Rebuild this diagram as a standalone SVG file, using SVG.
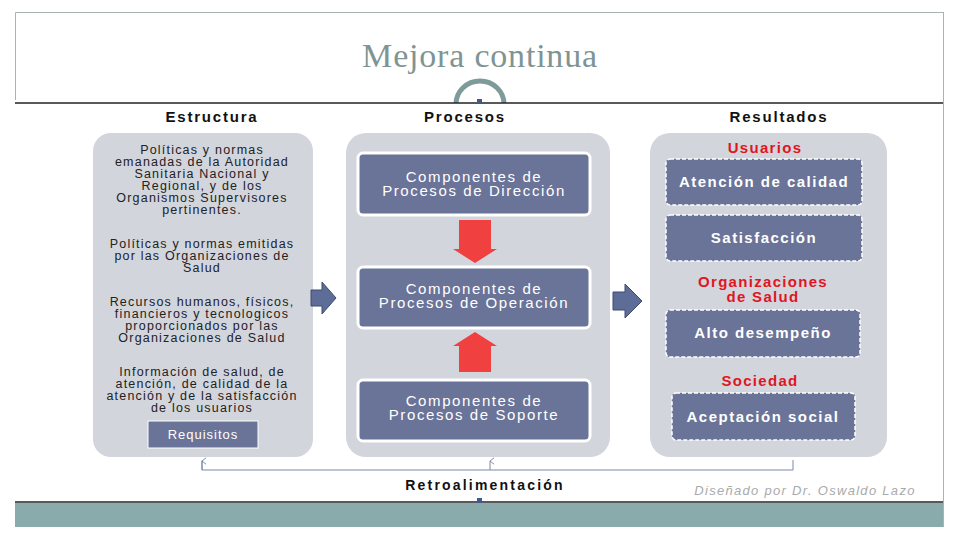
<svg xmlns="http://www.w3.org/2000/svg" width="960" height="540" viewBox="0 0 960 540">
<defs>
<style>
.hdr{font-family:"Liberation Sans",Arial,sans-serif;font-weight:bold;font-size:15px;fill:#111;text-anchor:middle;letter-spacing:1.8px}
.lt{font-family:"Liberation Sans",Arial,sans-serif;font-size:12.5px;fill:#222;text-anchor:middle;letter-spacing:1.2px}
.bt{font-family:"Liberation Sans",Arial,sans-serif;font-size:15px;fill:#fff;text-anchor:middle;letter-spacing:1.6px}
.rbt{font-family:"Liberation Sans",Arial,sans-serif;font-weight:bold;font-size:15px;fill:#fff;text-anchor:middle;letter-spacing:1.5px}
.red{font-family:"Liberation Sans",Arial,sans-serif;font-weight:bold;font-size:15px;fill:#e0161e;text-anchor:middle;letter-spacing:1.3px}
.panel{fill:#d3d5dd}
.pbox{fill:#6a7398;stroke:#fff;stroke-width:3}
.rbox{fill:#6a7398;stroke:#fff;stroke-width:1.5;stroke-dasharray:4 2}
.fb{fill:none;stroke:#7a88aa;stroke-width:1}
</style>
<marker id="up" viewBox="0 0 10 10" refX="5" refY="1" markerWidth="8" markerHeight="8" orient="auto-start-reverse" markerUnits="userSpaceOnUse">
<path d="M1,6 L5,1 L9,6" fill="none" stroke="#7a88aa" stroke-width="1.2"/>
</marker>
</defs>
<rect x="0" y="0" width="960" height="540" fill="#fff"/>
<path d="M15.5,100 V12.5 H943.5 V527" fill="none" stroke="#a8b4b4" stroke-width="1"/>
<text x="480" y="67" font-family="Liberation Serif,Times New Roman,serif" font-size="34" fill="#7f9494" text-anchor="middle" letter-spacing="0.8">Mejora continua</text>
<path d="M456,104 A24,23 0 0 1 504,104" fill="none" stroke="#7f9a9a" stroke-width="5"/>
<rect x="15" y="103" width="928" height="399" fill="#fff"/>
<line x1="15" y1="103" x2="943" y2="103" stroke="#222" stroke-width="1.5"/>
<rect x="477" y="99" width="5" height="5" fill="#3d5a8a"/>
<rect x="15" y="503" width="928" height="24" fill="#8aabab"/>
<line x1="15" y1="502" x2="943" y2="502" stroke="#222" stroke-width="1.5"/>
<rect x="477" y="498" width="5" height="5" fill="#3d5a8a"/>
<line x1="943.5" y1="12" x2="943.5" y2="527" stroke="#a8b4b4" stroke-width="1"/>

<text class="hdr" x="212" y="122">Estructura</text>
<text class="hdr" x="465" y="122">Procesos</text>
<text class="hdr" x="779" y="122">Resultados</text>

<g id="estructura">
<rect class="panel" x="93" y="133" width="220" height="324" rx="18"/>
<text class="lt" x="202" y="154">Políticas y normas</text>
<text class="lt" x="202" y="166">emanadas  de la Autoridad</text>
<text class="lt" x="202" y="178">Sanitaria  Nacional y</text>
<text class="lt" x="202" y="190">Regional, y de los</text>
<text class="lt" x="202" y="202">Organismos  Supervisores</text>
<text class="lt" x="202" y="214">pertinentes.</text>
<text class="lt" x="202" y="248">Políticas y normas  emitidas</text>
<text class="lt" x="202" y="260">por las Organizaciones de</text>
<text class="lt" x="202" y="272">Salud</text>
<text class="lt" x="202" y="306">Recursos humanos, físicos,</text>
<text class="lt" x="202" y="318">financieros  y tecnologicos</text>
<text class="lt" x="202" y="330">proporcionados por las</text>
<text class="lt" x="202" y="342">Organizaciones de Salud</text>
<text class="lt" x="202" y="376">Información de salud, de</text>
<text class="lt" x="202" y="388">atención, de calidad de la</text>
<text class="lt" x="202" y="400">atención y de la satisfacción</text>
<text class="lt" x="202" y="412">de los usuarios</text>
</g>
<g id="requisitos">
<rect x="148" y="421" width="110" height="27" fill="#6a7398" stroke="#fff" stroke-width="1"/>
<text x="203" y="439" font-family="Liberation Sans,Arial,sans-serif" font-size="13" fill="#fff" text-anchor="middle" letter-spacing="1">Requisitos</text>
</g>

<g id="procesos">
<rect class="panel" x="346" y="133" width="264" height="324" rx="20"/>
</g>
<g id="direccion">
<rect class="pbox" x="358" y="153" width="232" height="62" rx="5"/>
<text class="bt" x="474" y="182">Componentes de</text>
<text class="bt" x="474" y="196">Procesos de Dirección</text>
</g>
<g id="operacion">
<rect class="pbox" x="358" y="267" width="232" height="61" rx="5"/>
<text class="bt" x="474" y="294">Componentes de</text>
<text class="bt" x="474" y="308">Procesos de  Operación</text>
</g>
<g id="soporte">
<rect class="pbox" x="358" y="380" width="232" height="61" rx="5"/>
<text class="bt" x="474" y="406">Componentes de</text>
<text class="bt" x="474" y="420">Procesos de Soporte</text>
</g>

<g id="resultados">
<rect class="panel" x="650" y="133" width="237" height="324" rx="20"/>
<text class="red" x="765" y="153">Usuarios</text>
<text class="red" x="763" y="287">Organizaciones</text>
<text class="red" x="763" y="302">de Salud</text>
<text class="red" x="760" y="386">Sociedad</text>
</g>
<g id="atencion">
<rect class="rbox" x="666" y="159" width="196" height="46" rx="4"/>
<text class="rbt" x="764" y="187">Atención de calidad</text>
</g>
<g id="satisfaccion">
<rect class="rbox" x="666" y="215" width="196" height="46" rx="4"/>
<text class="rbt" x="764" y="243">Satisfacción</text>
</g>
<g id="desempeno">
<rect class="rbox" x="666" y="310" width="194" height="47" rx="4"/>
<text class="rbt" x="763" y="338">Alto desempeño</text>
</g>
<g id="aceptacion">
<rect class="rbox" x="672" y="393" width="183" height="47" rx="4"/>
<text class="rbt" x="763" y="422">Aceptación social</text>
</g>

<g id="connectors">
<path d="M459,220 H491 V249 H497 L475,263 L453,249 H459 Z" fill="#f04040"/>
<path d="M459,372 H491 V346 H497 L475,332 L453,346 H459 Z" fill="#f04040"/>
<path d="M311,290 H322 V282 L336,298 L322,314 V306 H311 Z" fill="#5e6c98" stroke="#3e4a70" stroke-width="1"/>
<path d="M613,292 H625 V284 L642,301 L625,318 V310 H613 Z" fill="#5e6c98" stroke="#3e4a70" stroke-width="1"/>
<path class="fb" d="M793,460 V470 H202 V460.5"/>
<line class="fb" x1="202" y1="470" x2="202" y2="461" marker-end="url(#up)"/>
<line class="fb" x1="490" y1="470" x2="490" y2="461" marker-end="url(#up)"/>
</g>
<text x="485" y="490" font-family="Liberation Sans,Arial,sans-serif" font-weight="bold" font-size="14" fill="#111" text-anchor="middle" letter-spacing="2.2">Retroalimentación</text>
<text x="805" y="495" font-family="Liberation Sans,Arial,sans-serif" font-style="italic" font-size="13" fill="#aaa" text-anchor="middle" letter-spacing="1.3">Diseñado por  Dr. Oswaldo Lazo</text>
</svg>
